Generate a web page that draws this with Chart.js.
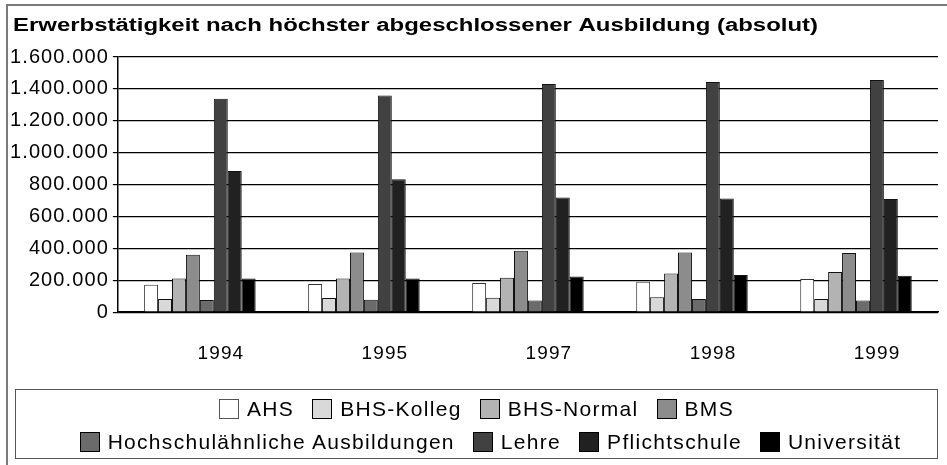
<!DOCTYPE html>
<html>
<head>
<meta charset="utf-8">
<script src="https://cdn.jsdelivr.net/npm/chart.js@4"></script>
<style>
    body { margin: 0; background: #fff; font-family: "Liberation Sans", Arial, sans-serif; }
    #wrap { position: relative; width: 947px; height: 465px; overflow: hidden; }
    #frame { position: absolute; left: 6px; top: 4px; width: 960px; height: 480px; border: 2px solid #7a7a7a; }
    #chart { position: absolute; left: 0; top: 0; }
    #legend { position: absolute; left: 15px; top: 389px; width: 921px; height: 68px; border: 1.5px solid #555; }
    .row { display: flex; justify-content: center; align-items: center; height: 33px; }
    .row:first-child { margin-top: 2px; }
    .row:last-child { padding-left: 28px; }
    .item { display: flex; align-items: center; margin: 0 9px; font-size: 21px; letter-spacing: 1.3px; color: #000; }
    .box { width: 20px; height: 20px; border: 1px solid #000; margin-right: 8px; box-sizing: border-box; }
</style>
</head>
<body>
<div id="wrap">
    <div id="frame"></div>
    <canvas id="chart" width="947" height="465"></canvas>
    <div id="legend"></div>
</div>
<script>
// data
const years = ['1994', '1995', '1997', '1998', '1999'];
const ahs = [172000, 177000, 183000, 191000, 208000];
const bhsKolleg = [83000, 89000, 91000, 93000, 83000];
const bhsNormal = [212000, 212000, 216000, 243000, 252000];
const bms = [360000, 375000, 385000, 375000, 371000];
const hochschul = [76000, 78000, 74000, 83000, 74000];
const lehre = [1339000, 1358000, 1431000, 1443000, 1456000];
const pflicht = [886000, 834000, 719000, 713000, 709000];
const uni = [212000, 212000, 224000, 233000, 229000];

const seriesNames = ['AHS', 'BHS-Kolleg', 'BHS-Normal', 'BMS', 'Hochschulähnliche Ausbildungen', 'Lehre', 'Pflichtschule', 'Universität'];
const seriesValues = [ahs, bhsKolleg, bhsNormal, bms, hochschul, lehre, pflicht, uni];
const colors = ['#ffffff', '#d9d9d9', '#b3b3b3', '#8c8c8c', '#6b6b6b', '#414141', '#212121', '#000000'];
const legendRows = [[0, 1, 2, 3], [4, 5, 6, 7]];
const titleText = 'Erwerbstätigkeit nach höchster abgeschlossener Ausbildung (absolut)';

const font = '"Liberation Sans", Arial, sans-serif';

let datasets = seriesNames.map((name, i) => ({
    label: name,
    data: seriesValues[i],
    backgroundColor: colors[i],
    borderColor: i === 0 ? '#333' : '#111',
    borderWidth: 1,
    barPercentage: 1,
    categoryPercentage: 0.68
}));

// the original text is a bit wider than Arial, so space the letters out a little
const spacing = {
    id: 'spacing',
    beforeLayout: chart => { chart.ctx.letterSpacing = '1.1px'; },
    beforeDraw: chart => { chart.ctx.letterSpacing = '1.1px'; }
};

// wide bold title, stretched to the width it has in the original
const wideTitle = {
    id: 'wideTitle',
    afterDraw: chart => {
        let ctx = chart.ctx;
        ctx.save();
        ctx.letterSpacing = '0px';
        ctx.font = 'bold 18px ' + font;
        ctx.fillStyle = '#000';
        ctx.textBaseline = 'alphabetic';
        let w = ctx.measureText(titleText).width;
        ctx.translate(13, 31);
        ctx.scale(805 / w, 1);
        ctx.fillText(titleText, 0, 0);
        ctx.restore();
    }
};

new Chart(document.getElementById('chart'), {
    type: 'bar',
    data: { labels: years, datasets: datasets },
    plugins: [spacing, wideTitle],
    options: {
        responsive: false,
        animation: false,
        events: [],
        layout: { padding: { left: 6, right: 9, top: 57, bottom: 70 } },
        scales: {
            x: {
                grid: { display: false, drawTicks: false },
                border: { color: '#000', width: 1.5 },
                ticks: { color: '#000', font: { family: font, size: 19 }, padding: 30, labelOffset: 21 }
            },
            y: {
                min: 0,
                max: 1600000,
                grid: { color: '#000', lineWidth: 1.2, tickLength: 5 },
                border: { color: '#000', width: 1.5 },
                ticks: {
                    stepSize: 200000,
                    color: '#000',
                    padding: 4,
                    font: { family: font, size: 20 },
                    callback: v => v.toLocaleString('de-DE')
                }
            }
        },
        plugins: {
            legend: { display: false },
            tooltip: { enabled: false },
            title: { display: false }
        }
    }
});

// legend in two rows like the original
let legend = document.getElementById('legend');
legendRows.forEach(row => {
    let r = document.createElement('div');
    r.className = 'row';
    row.forEach(i => {
        let item = document.createElement('div');
        item.className = 'item';
        let box = document.createElement('span');
        box.className = 'box';
        box.style.background = colors[i];
        if (i === 0) box.style.borderColor = '#555';
        item.appendChild(box);
        item.appendChild(document.createTextNode(seriesNames[i]));
        r.appendChild(item);
    });
    legend.appendChild(r);
});
</script>
</body>
</html>
